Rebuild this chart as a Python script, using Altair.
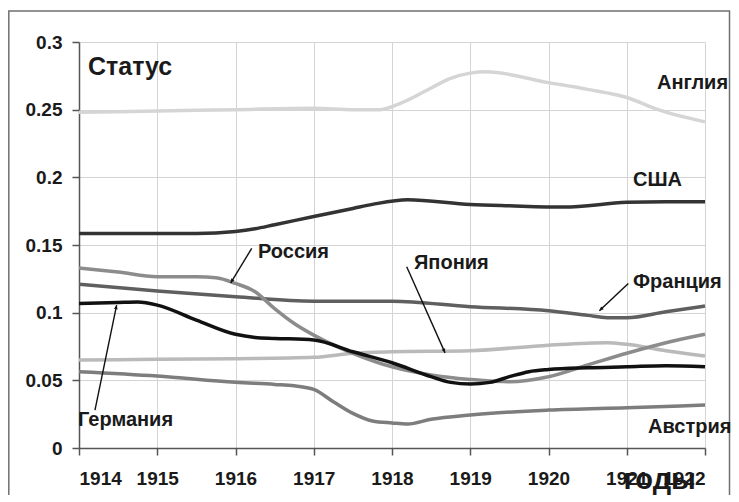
import math
import altair as alt
import pandas as pd

# ---- data ----
eng_years = [1914, 1915, 1916, 1917, 1917.5, 1917.85, 1918.1, 1918.5, 1918.74, 1919, 1919.2, 1920, 1920.5, 1921, 1921.4, 1922]
eng_vals = [0.248, 0.249, 0.250, 0.251, 0.250, 0.250, 0.2545, 0.266, 0.273, 0.277, 0.278, 0.270, 0.265, 0.259, 0.250, 0.241]

usa_years = [1914, 1915, 1915.5, 1916, 1916.25, 1916.5, 1917, 1917.5, 1917.75, 1918.2, 1919, 1919.5, 1920.2, 1921, 1921.5, 1922]
usa_vals = [0.1585, 0.1585, 0.1585, 0.160, 0.162, 0.165, 0.171, 0.177, 0.180, 0.1835, 0.180, 0.179, 0.178, 0.1815, 0.182, 0.182]

rus_years = [1914, 1914.5, 1915, 1915.5, 1915.75, 1916, 1916.25, 1916.5, 1916.75, 1917, 1917.5, 1918, 1918.5, 1919, 1919.5, 1920, 1920.5, 1921, 1921.5, 1922]
rus_vals = [0.133, 0.130, 0.1265, 0.1265, 0.1258, 0.1216, 0.1155, 0.103, 0.092, 0.0834, 0.070, 0.060, 0.054, 0.0507, 0.049, 0.0527, 0.0613, 0.070, 0.0778, 0.084]

fra_years = [1914, 1915, 1916, 1917, 1918, 1919, 1920, 1920.5, 1920.75, 1921, 1921.5, 1922]
fra_vals = [0.121, 0.116, 0.1118, 0.1085, 0.1085, 0.1044, 0.1014, 0.098, 0.0963, 0.0963, 0.1007, 0.1049]

ger_years = [1914, 1914.5, 1914.75, 1915, 1915.5, 1916, 1916.25, 1916.5, 1917, 1917.5, 1918, 1918.5, 1918.75, 1919, 1919.25, 1919.5, 1919.75, 1920, 1920.5, 1921, 1921.5, 1922]
ger_vals = [0.1068, 0.1075, 0.1078, 0.1056, 0.0945, 0.084, 0.0817, 0.081, 0.0798, 0.0711, 0.063, 0.0527, 0.0485, 0.0473, 0.0485, 0.0527, 0.0564, 0.058, 0.0593, 0.060, 0.0608, 0.060]

jap_years = [1914, 1915, 1916, 1917, 1917.5, 1918, 1919, 1920, 1920.75, 1921, 1921.5, 1922]
jap_vals = [0.065, 0.0655, 0.066, 0.067, 0.070, 0.0711, 0.0719, 0.076, 0.0778, 0.0766, 0.0719, 0.068]

aus_years = [1914, 1915, 1916, 1916.5, 1916.75, 1917, 1917.25, 1917.5, 1917.75, 1918, 1918.2, 1918.5, 1919, 1920, 1921, 1922]
aus_vals = [0.0564, 0.0532, 0.0485, 0.047, 0.046, 0.0433, 0.0342, 0.0256, 0.020, 0.0185, 0.0177, 0.0212, 0.0244, 0.028, 0.0298, 0.0317]

series_names = ["Англия", "США", "Япония", "Австрия", "Франция", "Россия", "Германия"]
series_colors = ["#d5d5d5", "#333333", "#bababa", "#7d7d7d", "#5f5f5f", "#8c8c8c", "#111111"]

x_ticks = [1914, 1915, 1916, 1917, 1918, 1919, 1920, 1921, 1922]
y_ticks = [0, 0.05, 0.1, 0.15, 0.2, 0.25, 0.3]

label_texts = ["Статус", "Англия", "США", "Россия", "Япония", "Франция", "Германия", "Австрия"]
label_x = [1914.115, 1921.387, 1921.08, 1916.287, 1918.281, 1921.08, 1913.987, 1921.272]
label_y = [0.2814, 0.2696, 0.198, 0.145, 0.1366, 0.1226, 0.0207, 0.0155]
label_sizes = [25, 20, 20, 20, 20, 20, 20, 20]

xlabel_text = ["годы"]
xlabel_x = [1920.96]
xlabel_y = [-0.0300]

arrow_x1 = [1916.207, 1914.204, 1918.188, 1921.020]
arrow_y1 = [0.1475, 0.0280, 0.1339, 0.1216]
arrow_x2 = [1915.939, 1914.481, 1918.678, 1920.650]
arrow_y2 = [0.1220, 0.1056, 0.0703, 0.1014]

# ---- build tables ----
W, H = 626, 406
series_data = {
    "Англия": (eng_years, eng_vals),
    "США": (usa_years, usa_vals),
    "Япония": (jap_years, jap_vals),
    "Австрия": (aus_years, aus_vals),
    "Франция": (fra_years, fra_vals),
    "Россия": (rus_years, rus_vals),
    "Германия": (ger_years, ger_vals),
}
rows = []
for order, name in enumerate(series_names):
    ys, vs = series_data[name]
    for yr, v in zip(ys, vs):
        rows.append({"country": name, "year": yr, "value": v, "ord": order})
lines_df = pd.DataFrame(rows)

labels_df = pd.DataFrame({"t": label_texts, "x": label_x, "y": label_y, "fs": label_sizes})
xlabel_df = pd.DataFrame({"t": xlabel_text, "x": xlabel_x, "y": xlabel_y})

px_per_year = W / (1922 - 1914)
px_per_val = H / 0.3
angles = []
for a, b, c, d in zip(arrow_x1, arrow_y1, arrow_x2, arrow_y2):
    dx = (c - a) * px_per_year
    dy = -(d - b) * px_per_val
    angles.append(math.degrees(math.atan2(dx, -dy)) % 360)
arrows_df = pd.DataFrame({"x1": arrow_x1, "y1": arrow_y1, "x2": arrow_x2, "y2": arrow_y2, "ang": angles})

FONT = "Liberation Sans"

xscale = alt.Scale(domain=[1914, 1922], nice=False, zero=False)
yscale = alt.Scale(domain=[0, 0.3], nice=False)

xaxis = alt.Axis(values=x_ticks, format="d", title=None, grid=True)
yaxis = alt.Axis(values=y_ticks, format="~g", title=None, grid=True)

lines = alt.Chart(lines_df).mark_line(interpolate="monotone", strokeWidth=3.5).encode(
    x=alt.X("year:Q", scale=xscale, axis=xaxis),
    y=alt.Y("value:Q", scale=yscale, axis=yaxis),
    color=alt.Color("country:N", scale=alt.Scale(domain=series_names, range=series_colors), legend=None),
    order=alt.Order("ord:Q"),
)

texts = alt.Chart(labels_df).mark_text(align="left", baseline="middle", font=FONT, fontWeight="bold", color="#1a1a1a").encode(
    x=alt.X("x:Q", scale=xscale),
    y=alt.Y("y:Q", scale=yscale),
    text="t:N",
    size=alt.Size("fs:Q", scale=None),
)

xlabel = alt.Chart(xlabel_df).mark_text(align="left", baseline="alphabetic", font=FONT, fontWeight="bold", color="#1a1a1a", fontSize=29).encode(
    x=alt.X("x:Q", scale=xscale),
    y=alt.Y("y:Q", scale=yscale),
    text="t:N",
)

arrow_lines = alt.Chart(arrows_df).mark_rule(color="#111111", strokeWidth=1.4).encode(
    x=alt.X("x1:Q", scale=xscale),
    y=alt.Y("y1:Q", scale=yscale),
    x2="x2:Q",
    y2="y2:Q",
)

arrow_heads = alt.Chart(arrows_df).mark_point(
    shape="M0,0 L-0.45,1 L0.45,1 Z", filled=True, color="#111111", size=70, opacity=1
).encode(
    x=alt.X("x2:Q", scale=xscale),
    y=alt.Y("y2:Q", scale=yscale),
    angle=alt.Angle("ang:Q", scale=None),
)

frame = alt.Chart(pd.DataFrame({"k": [0]})).mark_rect(
    fill="transparent", stroke="#707070", strokeWidth=1.5
).encode(
    x=alt.value(-70.2), x2=alt.value(650.5), y=alt.value(-31), y2=alt.value(480)
)

chart = alt.layer(frame, lines, arrow_lines, arrow_heads, texts, xlabel).properties(
    width=W,
    height=H,
    autosize=alt.AutoSizeParams(type="none"),
    padding={"left": 71, "top": 34, "right": 26, "bottom": 47},
    background="white",
).configure_view(stroke=None).configure_axis(
    labelFont=FONT,
    labelFontWeight="bold",
    labelFontSize=19,
    labelColor="#1a1a1a",
    gridColor="#d4d4d4",
    gridWidth=1,
    domainColor="#555555",
    domainWidth=1.5,
    tickColor="#555555",
    tickWidth=1.5,
    tickSize=7,
).configure_axisY(labelPadding=10).configure_axisX(labelPadding=14)

chart.save("out.html", embed_options={"renderer": "svg", "actions": False})
